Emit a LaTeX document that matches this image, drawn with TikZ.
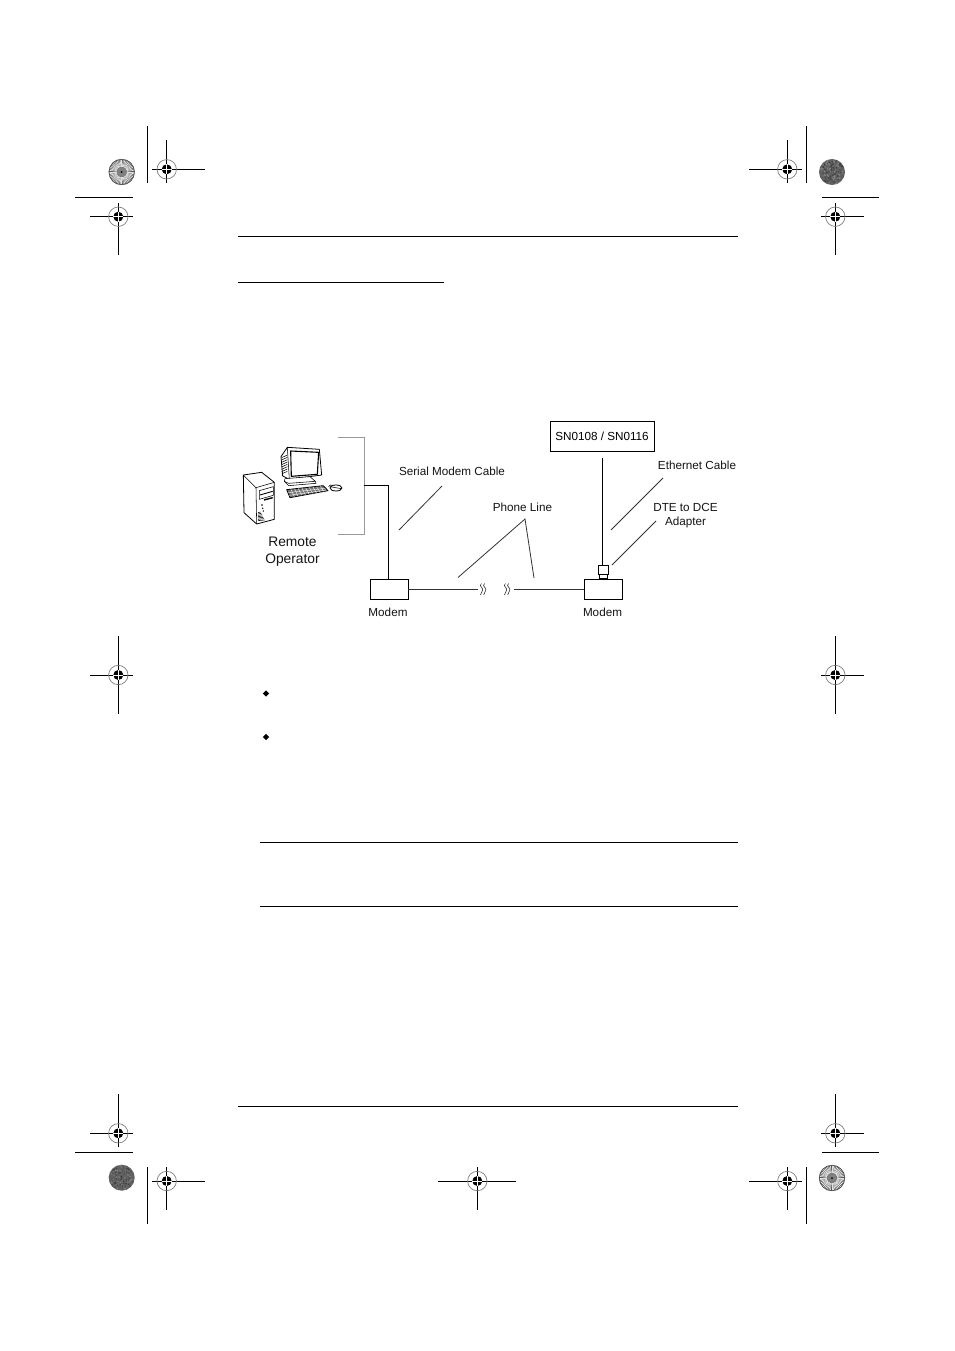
\documentclass[tikz,border=0pt]{standalone}
\usepackage{fontspec}
\setmainfont{Liberation Sans}
\usetikzlibrary{shapes.geometric}
\definecolor{brk}{gray}{0.6}
\definecolor{lead}{gray}{0.2}
\tikzset{
  rulex/.style={black,line width=0.9pt},
  reg/.style={black,line width=1pt},
  modembox/.style={draw=black,line width=0.9pt,minimum width=38pt,minimum height=20pt,inner sep=0pt,fill=white},
  kvmbox/.style={draw=black,line width=0.9pt,minimum width=104pt,minimum height=30pt,inner sep=0pt,font=\fontsize{11.7}{14}\selectfont},
  lab/.style={inner sep=0pt,align=center,text=black!92,font=\fontsize{11.7}{14}\selectfont},
  biglab/.style={inner sep=0pt,align=center,text=black!92,font=\fontsize{13.8}{17}\selectfont},
  leader/.style={lead,line width=0.8pt},
  wire/.style={black,line width=0.95pt},
  phone/.style={lead,line width=0.95pt},
  art/.style={black,line width=0.55pt,line join=round},
}
% centre x, centre y, hleft, hright, vtop, vbottom
\newcommand{\regmark}[6]{%
  \draw[reg] (#3,#2) -- (#4,#2);
  \draw[reg] (#1,#5) -- (#1,#6);
  \draw[gray,line width=0.7pt] (#1,#2) circle (9.7pt);
  \fill[black] (#1,#2) circle (5pt);
  \draw[white,line width=0.5pt] (#1-5,#2) -- (#1+5,#2) (#1,#2-5) -- (#1,#2+5);
}
\newcommand{\burst}[2]{%
  \fill[black!68] (#1,#2) circle (13pt);
  \foreach \a in {0,7.5,...,352.5}{\draw[white!88!black,line width=0.75pt] (#1,#2) ++(\a:5pt) -- ++(\a:8pt);}
  \draw[gray!60!black,line width=0.7pt] (#1,#2) circle (12.7pt);
  \fill[black!50] (#1,#2) circle (5pt);
  \fill[black] (#1,#2) circle (1pt);
}
\newcommand{\noisy}[2]{%
  \fill[black!62] (#1,#2) circle (13pt);
  \foreach \i in {1,...,170}{%
    \pgfmathsetmacro{\ra}{360*rnd}\pgfmathsetmacro{\rr}{12*sqrt(rnd)}\pgfmathsetmacro{\rg}{int(45+35*rnd)}%
    \fill[black!\rg] (#1,#2) ++(\ra:\rr pt) circle (0.9pt);}
}
\begin{document}
\begin{tikzpicture}[x=1pt,y=-1pt]
\pgfmathsetseed{7}
\useasboundingbox (0,0) rectangle (954,1351);
\fill[white] (0,0) rectangle (954,1351);
% page rules
\draw[rulex] (238,236.5) -- (738,236.5);
\draw[rulex] (238,282) -- (444,282);
\draw[rulex] (260,842) -- (738,842);
\draw[rulex] (260,906.5) -- (738,906.5);
\draw[rulex] (238,1106) -- (738,1106);
% bullets
\node[diamond,fill=black,inner sep=0pt,minimum size=6.5pt] (b1) at (266,693.5) {};
\node[diamond,fill=black,inner sep=0pt,minimum size=6.5pt] (b2) at (266,737) {};
% crop lines
\draw[reg] (147.3,126) -- (147.3,183);
\draw[reg] (806.5,126) -- (806.5,183);
\draw[reg] (75,198) -- (133,198);
\draw[reg] (822,198) -- (879,198);
\draw[reg] (75,1152.5) -- (133,1152.5);
\draw[reg] (822,1152.5) -- (879,1152.5);
\draw[reg] (147.3,1167) -- (147.3,1224);
\draw[reg] (806.5,1167) -- (806.5,1224);
% registration marks
\regmark{166.7}{169.3}{152}{205}{140}{183}
\regmark{118.3}{216.7}{90}{133}{203}{255}
\regmark{787.3}{169.3}{749}{802}{140}{183}
\regmark{835.3}{216.7}{821}{864}{203}{255}
\regmark{118.3}{675}{90}{133}{636}{714}
\regmark{835.3}{675}{821}{864}{636}{714}
\regmark{118.3}{1133.3}{90}{133}{1094}{1147}
\regmark{835.3}{1133.3}{821}{864}{1094}{1147}
\regmark{166.7}{1181}{152}{205}{1167}{1210}
\regmark{787.3}{1181}{749}{802}{1167}{1210}
\regmark{477.3}{1181}{438}{516}{1167}{1210}
% discs
\burst{121.7}{172}
\noisy{832}{172}
\noisy{121.7}{1177.7}
\burst{832}{1178}
% computer artwork
\begin{scope}[shift={(230,420)},x=0.3333pt,y=-0.3333pt]
  % tower
  \draw[art,line width=0.8pt,fill=white] (40,165) -- (95,157) -- (133,187) -- (133,298) -- (80,312) -- (42,278) -- cycle;
  \draw[art] (40,165) -- (78,203) -- (133,187);
  \draw[art] (78,203) -- (80,312);
  \draw[art] (88,212) -- (130,200) -- (130,226) -- (88,238) -- cycle;
  \draw[art,line width=0.9pt] (90,225) -- (128,214);
  \draw[art,line width=1.4pt] (102,240) -- (128,233);
  \fill[black] (96,255) circle (2.4) (98,265) circle (2.4) (100,273) circle (2.4);
  \foreach \i in {0,1,...,6}{\draw[art] (84,{278+\i*4}) -- ({92+\i*2},{276+\i*4});}
  % monitor
  \draw[art,line width=0.8pt,fill=white] (172,82) -- (268,88) -- (275,165) -- (178,178) -- (158,168) -- (153,110) -- cycle;
  \draw[art] (172,82) -- (178,178);
  \draw[art,line width=1.1pt] (182,93) -- (266,97) -- (262,163) -- (184,169) -- cycle;
  \foreach \i in {0,1,...,7}{\draw[art] (155,{113+\i*7}) -- (172,{105+\i*7});}
  % stand
  \draw[art,fill=white] (165,176) -- (240,170) -- (256,184) -- (258,190) -- (176,197) -- (163,184) -- cycle;
  \draw[art] (163,184) -- (176,190) -- (256,184);
  % keyboard
  \draw[art,line width=0.8pt,fill=black!55] (170,209) -- (280,197) -- (294,212) -- (180,233) -- cycle;
  \foreach \i in {1,...,9}{\draw[white,line width=0.4pt] ({172+\i*11},{209-\i*1.1}) -- ({182+\i*11},{232-\i*2});}
  \draw[white,line width=0.4pt] (175,218) -- (286,205);
  \draw[white,line width=0.4pt] (178,226) -- (290,210);
  % mouse
  \draw[art,line width=0.8pt,fill=white] (318,204) ellipse (18 and 9);
  \draw[art] (300,200) -- (334,206);
  \draw[art] (296,200) .. controls (298,194) and (304,194) .. (308,196);
\end{scope}
% bracket
\coordinate (brtop) at (338,437);
\coordinate (brbot) at (338,534);
\draw[brk,line width=1pt] (brtop) -- (364,437) -- (364,534) -- (brbot);
% modems and unit
\node[modembox] (modemL) at (389,589) {};
\node[modembox] (modemR) at (603,589) {};
\node[kvmbox] (kvm) at (602,436) {SN0108 / SN0116};
\node[draw=black,line width=0.9pt,minimum width=10pt,minimum height=9.5pt,inner sep=0pt,fill=white] (adapter) at (603,570) {};
\draw[black,line width=0.6pt] (599,575) -- (599,578) -- (607,578) -- (607,575);
% wiring
\coordinate (brmid) at (364,485);
\coordinate (kvmend) at (602.3,458);
\draw[wire] (brmid) -- (388.3,485) -- (modemL.north -| 388.3,485);
\draw[wire] (kvmend) -- (kvmend |- adapter.north);
\coordinate (bL) at (478,589.5);
\coordinate (bR) at (514,589.5);
\draw[phone] (modemL.east |- bL) -- (bL);
\draw[phone] (bR) -- (modemR.west |- bR);
% line-break squiggles
\coordinate (sqA) at (483,589.5);
\coordinate (sqB) at (507,589.5);
\foreach \c in {sqA,sqB}{
  \begin{scope}[shift={(\c)}]
  \foreach \d in {-1.6,1.6}{
    \draw[lead,line width=0.6pt,xshift=\d pt] (0,-6) .. controls (-3.5,-3) and (3,-1.5) .. (1,1.2) .. controls (0.2,2.5) and (-0.5,3.5) .. (-1,5.5);
  }
  \end{scope}
}
% labels
\node[biglab] (remote) at (292.5,552) {Remote\\Operator};
\node[lab] (lserial) at (452,471.3) {Serial Modem Cable};
\node[lab] (lphone) at (522.5,507.3) {Phone Line};
\node[lab] (lether) at (697,465.3) {Ethernet Cable};
\node[lab] (ldte) at (685.5,515.5) {DTE to DCE\\Adapter};
\node[lab] (lmL) at (388,612.5) {Modem};
\node[lab] (lmR) at (602.5,612.5) {Modem};
% leaders
\coordinate (s1) at (399,530); \coordinate (s2) at (442,486);
\draw[leader] (s1) -- (s2);
\coordinate (p1) at (458,577.5); \coordinate (p2) at (525,519); \coordinate (p3) at (534,578);
\draw[leader] (p1) -- (p2) -- (p3);
\coordinate (e1) at (611,530); \coordinate (e2) at (663,478);
\draw[leader] (e1) -- (e2);
\coordinate (d1) at (612,565); \coordinate (d2) at (656,521);
\draw[leader] (d1) -- (d2);
\end{tikzpicture}
\end{document}
